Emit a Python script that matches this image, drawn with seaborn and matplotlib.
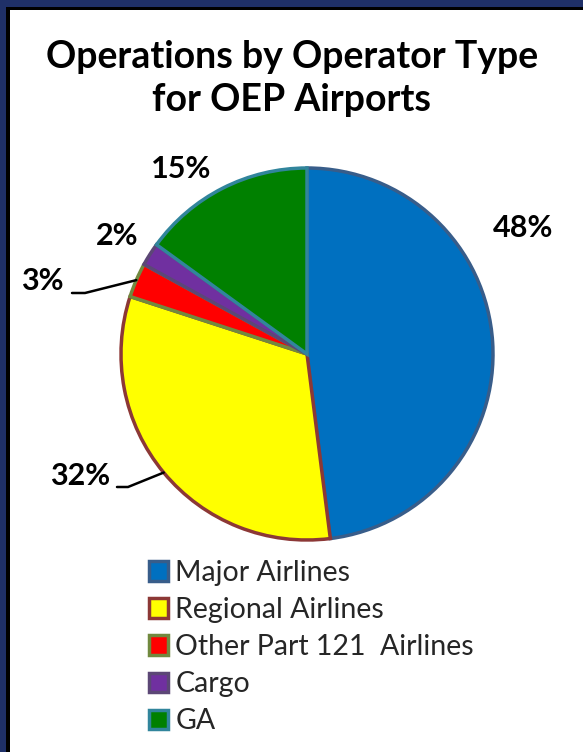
import matplotlib
matplotlib.use("Agg")
import numpy as np
import matplotlib.pyplot as plt
from matplotlib.patches import Rectangle
import seaborn as sns

# Share of operations at OEP airports, by operator type (percent)
operators = ["Major Airlines", "Regional Airlines", "Other Part 121  Airlines", "Cargo", "GA"]
shares = [48, 32, 3, 2, 15]
fill_colors = ["#0070C0", "#FFFF00", "#FF0000", "#7030A0", "#008000"]
edge_colors = ["#385D8A", "#8C3836", "#71893F", "#5C4776", "#31859C"]
title_lines = ["Operations by Operator Type", "for OEP Airports"]

sns.set_theme(style="white")
plt.rcParams["font.family"] = ["Lato", "DejaVu Sans"]

W, H = 583, 752
fig = plt.figure(figsize=(W / 100, H / 100), dpi=100)
fig.patch.set_facecolor("white")


def fx(px):
    return px / W


def fy(py):
    return 1 - py / H


def frame_rect(x0, y0, x1, y1, color):
    fig.add_artist(Rectangle((fx(x0), fy(y1)), (x1 - x0) / W, (y1 - y0) / H,
                             transform=fig.transFigure, facecolor=color,
                             edgecolor="none", zorder=0))


# slide frame along the top and left edges
NAVY = "#1F3068"
frame_rect(0, 0, W, 7, NAVY)
frame_rect(0, 0, 6, H, NAVY)
frame_rect(6, 7, W, 10, "black")
frame_rect(6, 7, 10, H, "black")

# pie axes: centre and radius in pixels
CX, CY, R = 307, 354, 186
HALF = 215
ax = fig.add_axes([fx(CX - HALF), fy(CY + HALF), 2 * HALF / W, 2 * HALF / H])
wedges, _ = ax.pie(shares, colors=fill_colors, startangle=90, counterclock=False,
                   wedgeprops=dict(linewidth=2.5, joinstyle="miter"))
for w, ec in zip(wedges, edge_colors):
    w.set_edgecolor(ec)
lim = HALF / R
ax.set_xlim(-lim, lim)
ax.set_ylim(-lim, lim)
ax.set_aspect("equal")
ax.axis("off")


def to_data(px, py):
    return (px - CX) / R, (CY - py) / R


# percentage labels (centre x, baseline y in pixels)
label_pos = [(523, 237), (80, 485), (42, 290), (117, 245), (181, 178)]
for share, (px, py) in zip(shares, label_pos):
    x, y = to_data(px, py)
    ax.text(x, y, f"{share}%", ha="center", va="baseline",
            fontsize=22, fontweight="bold", color="black")

# leader lines for the left-hand labels: start, elbow, then wedge edge
leaders = {1: [(117, 487), (128, 487)], 2: [(72, 293), (85, 293)]}
for idx, pts in leaders.items():
    w = wedges[idx]
    mid = np.deg2rad((w.theta1 + w.theta2) / 2)
    xs = [to_data(*p)[0] for p in pts] + [np.cos(mid)]
    ys = [to_data(*p)[1] for p in pts] + [np.sin(mid)]
    ax.plot(xs, ys, color="black", linewidth=1.8, clip_on=False,
            solid_joinstyle="miter")

# title
for line, base in zip(title_lines, (68, 111)):
    fig.text(fx(292), fy(base), line, ha="center", va="baseline",
             fontsize=27, fontweight="bold", color="black")

# legend
fig.legend(wedges, operators, loc="upper left",
           bbox_to_anchor=(fx(149), fy(560)), frameon=False,
           fontsize=20.5, handlelength=0.68, handleheight=0.68,
           handletextpad=0.25, labelspacing=0.39, borderpad=0,
           borderaxespad=0)

fig.savefig("out.png", dpi=100, facecolor="white")
